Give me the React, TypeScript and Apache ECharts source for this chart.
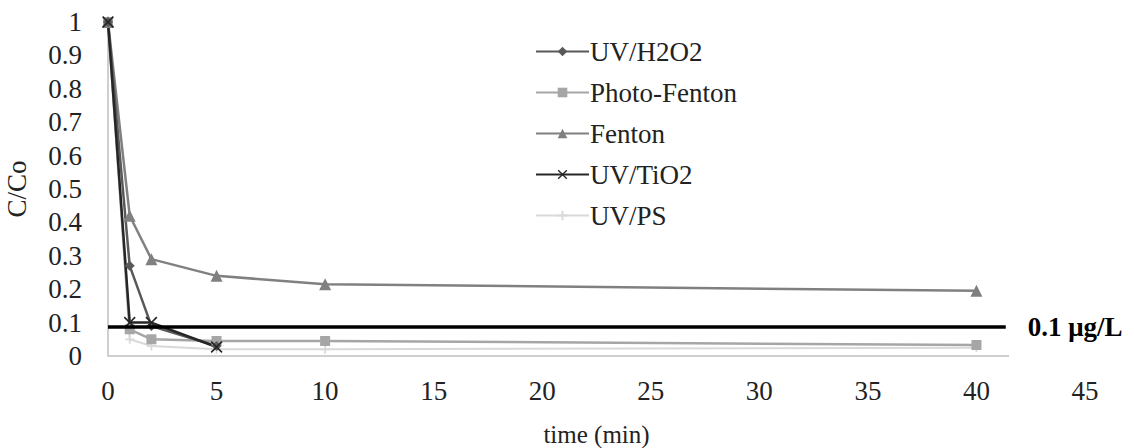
import React, { useEffect, useRef } from "react";
import * as echarts from "echarts";

const times = [0, 1, 2, 5, 10, 40];
const uvH2O2 = [1, 0.27, 0.09, 0.03];
const photoFenton = [1, 0.08, 0.05, 0.045, 0.045, 0.033];
const fenton = [1, 0.42, 0.29, 0.24, 0.215, 0.195];
const uvTiO2 = [1, 0.1, 0.1, 0.027];
const uvPS = [1, 0.05, 0.03, 0.02, 0.02, 0.025];
const thresholdValue = 0.087;
const thresholdLabel = "0.1 μg/L";
const xTicks = [0, 5, 10, 15, 20, 25, 30, 35, 40, 45];
const yTicks = [0, 0.1, 0.2, 0.3, 0.4, 0.5, 0.6, 0.7, 0.8, 0.9, 1];

const FONT = "Liberation Serif";
const FS = 27;
const xMark = "path://M0,1L1,0L5,4L9,0L10,1L6,5L10,9L9,10L5,6L1,10L0,9L4,5Z";
const star = "path://M4,0L6,0L6,4L10,4L10,6L6,6L6,10L4,10L4,6L0,6L0,4L4,4Z";

const pairs = (vals: number[]) => vals.map((v, i) => [times[i], v]);

export default function App() {
  const ref = useRef<HTMLDivElement>(null);
  useEffect(() => {
    if (!ref.current) return;
    const chart = echarts.init(ref.current, undefined, { renderer: "svg" });
    const mk = (name: string, data: number[], color: string, symbol: string, size: number, width = 2.5) => ({
      name,
      type: "line",
      data: pairs(data),
      symbol,
      symbolSize: size,
      itemStyle: { color },
      lineStyle: { color, width },
    });
    chart.setOption({
      animation: false,
      textStyle: { fontFamily: FONT },
      grid: { left: 108, right: 49, top: 22, bottom: 92, containLabel: false, outerBoundsMode: "none" },
      legend: {
        orient: "vertical",
        left: 530,
        top: 33,
        itemWidth: 53,
        itemHeight: 12,
        itemGap: 14,
        textStyle: { fontFamily: FONT, fontSize: FS, color: "#222", padding: [0, 0, 0, -4] },
        data: ["UV/H2O2", "Photo-Fenton", "Fenton", "UV/TiO2", "UV/PS"],
      },
      xAxis: {
        type: "value",
        min: 0,
        max: 45,
        interval: 5,
        name: "time (min)",
        nameLocation: "middle",
        nameGap: 66,
        nameTextStyle: { fontFamily: FONT, fontSize: 25, color: "#222" },
        axisLine: { show: false },
        axisTick: { show: false },
        splitLine: { show: false },
        axisLabel: {
          fontFamily: FONT,
          fontSize: FS,
          color: "#222",
          margin: 21,
          formatter: (v: number) => (xTicks.includes(v) ? String(v) : ""),
        },
      },
      yAxis: {
        type: "value",
        min: 0,
        max: 1,
        interval: 0.1,
        name: "C/Co",
        nameLocation: "middle",
        nameGap: 78,
        nameTextStyle: { fontFamily: FONT, fontSize: FS, color: "#222" },
        axisLine: { show: true, lineStyle: { color: "#bfbfbf", width: 1.5 } },
        axisTick: { show: false },
        splitLine: { show: false },
        axisLabel: {
          fontFamily: FONT,
          fontSize: FS,
          color: "#222",
          margin: 26,
          formatter: (v: number) => {
            const t = yTicks.find((y) => Math.abs(y - v) < 1e-6);
            return t === undefined ? "" : String(Math.round(t * 10) / 10);
          },
        },
      },
      series: [
        {
          name: "axis",
          type: "line",
          data: [],
          silent: true,
          markLine: {
            silent: true,
            symbol: "none",
            label: { show: false },
            lineStyle: { color: "#bfbfbf", width: 1.5, type: "solid" },
            data: [[{ coord: [0, 0] }, { coord: [41.5, 0] }]],
          },
        },
        mk("UV/PS", uvPS, "#d9d9d9", star, 9, 2),
        mk("Photo-Fenton", photoFenton, "#a6a6a6", "rect", 10),
        mk("Fenton", fenton, "#808080", "triangle", 12),
        mk("UV/H2O2", uvH2O2, "#595959", "diamond", 10),
        mk("UV/TiO2", uvTiO2, "#262626", xMark, 12),
        {
          name: "threshold",
          type: "line",
          data: [],
          silent: true,
          markLine: {
            silent: true,
            symbol: "none",
            lineStyle: { color: "#000", width: 3.5, type: "solid" },
            label: {
              show: true,
              position: "end",
              formatter: thresholdLabel,
              fontFamily: FONT,
              fontSize: FS,
              fontWeight: "bold",
              color: "#000",
              distance: 22,
            },
            data: [[{ coord: [0, thresholdValue] }, { coord: [41.35, thresholdValue] }]],
          },
        },
      ],
    });
    return () => chart.dispose();
  }, []);
  return <div ref={ref} style={{ width: 1134, height: 448, position: "absolute", left: 0, top: 0 }} />;
}
